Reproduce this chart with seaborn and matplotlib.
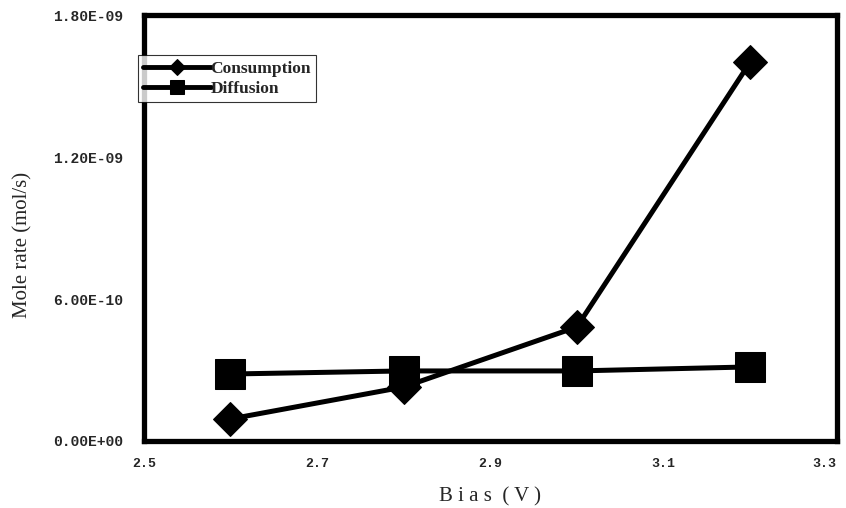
import numpy as np
import pandas as pd
import matplotlib
matplotlib.use("Agg")
import matplotlib.pyplot as plt
import seaborn as sns
from matplotlib.ticker import FuncFormatter

# data
bias = [2.6, 2.8, 3.0, 3.2]
consumption = [0.093e-9, 0.228e-9, 0.482e-9, 1.601e-9]
diffusion = [0.283e-9, 0.296e-9, 0.296e-9, 0.313e-9]

x_ticks = [2.5, 2.7, 2.9, 3.1, 3.3]
y_ticks = [0.0, 6.0e-10, 1.2e-9, 1.8e-9]

df = pd.concat([
    pd.DataFrame({"Bias": bias, "Rate": consumption, "Series": "Consumption"}),
    pd.DataFrame({"Bias": bias, "Rate": diffusion, "Series": "Diffusion"}),
])

sns.set_style("white")
plt.rcParams["font.family"] = ["Liberation Serif", "DejaVu Serif"]

fig = plt.figure(figsize=(8.46, 5.08), dpi=100)
ax = fig.add_axes([0.170, 0.132, 0.819, 0.838])

sns.lineplot(data=df[df.Series == "Consumption"], x="Bias", y="Rate", ax=ax,
             color="black", lw=3.6, marker="D", markersize=17,
             markeredgecolor="black", label="Consumption")
sns.lineplot(data=df[df.Series == "Diffusion"], x="Bias", y="Rate", ax=ax,
             color="black", lw=3.6, marker="s", markersize=22,
             markeredgecolor="black", label="Diffusion")

ax.set_xlim(2.5, 3.3)
ax.set_ylim(0, 1.8e-9)
ax.set_xticks(x_ticks)
ax.set_yticks(y_ticks)
ax.xaxis.set_major_formatter(FuncFormatter(lambda v, p: f"{v:.1f}"))
ax.yaxis.set_major_formatter(FuncFormatter(lambda v, p: f"{v:.2E}"))
ax.tick_params(axis="both", length=0)
ax.tick_params(axis="x", pad=12, labelsize=9.5)
ax.tick_params(axis="y", pad=15, labelsize=10.5)
for lab in ax.get_xticklabels() + ax.get_yticklabels():
    lab.set_fontweight("bold")
    lab.set_family(["Liberation Mono", "DejaVu Sans Mono"])
ax.get_xticklabels()[-1].set_horizontalalignment("right")

for s in ax.spines.values():
    s.set_visible(True)
    s.set_color("black")
    s.set_linewidth(3.8)

ax.set_xlabel("B i a s  ( V )", fontsize=15, labelpad=13)
ax.set_ylabel("Mole rate (mol/s)", fontsize=15)
ax.yaxis.set_label_coords(-0.16, 0.46)

leg = ax.legend(loc="upper left", bbox_to_anchor=(-0.009, 0.906),
                frameon=True, fancybox=False, edgecolor="black",
                fontsize=12.5, markerscale=0.45, handlelength=3.9,
                handletextpad=0.0, borderpad=0.3, labelspacing=0.25,
                borderaxespad=0)
leg.get_frame().set_linewidth(0.8)
for line in leg.get_lines():
    line.set_linewidth(3.5)
for t in leg.get_texts():
    t.set_fontweight("bold")

fig.savefig("out.png", dpi=100)
